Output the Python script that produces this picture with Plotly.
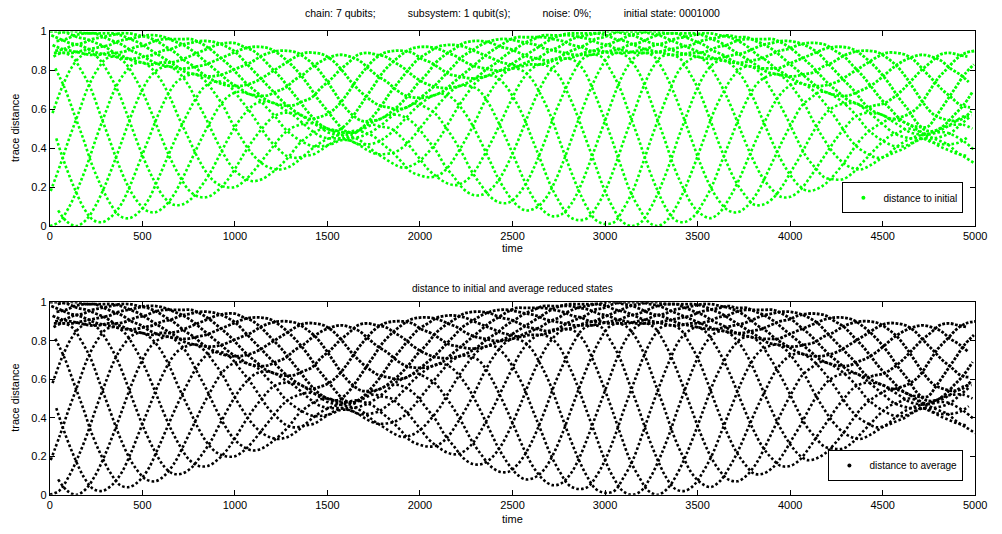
import plotly.graph_objects as go

# ---- data -------------------------------------------------------------------
# Trace distance sampled every 50 time units along each visible arc.
# Arcs of the lower lattice (swing between the lower edge and the dense band).
sample_step = 50
lattice_start = [0, 45, 35, 30, 20, 15, 5]

lattice_0 = [0.00, 0.02, 0.09, 0.19, 0.31, 0.45, 0.58, 0.70, 0.78, 0.83,
             0.84, 0.81, 0.75, 0.66, 0.55, 0.45, 0.35, 0.27, 0.22, 0.20,
             0.20, 0.23, 0.28, 0.34, 0.40, 0.46, 0.50, 0.52, 0.53, 0.52,
             0.50, 0.48, 0.48, 0.49, 0.48, 0.46, 0.42, 0.38, 0.33, 0.28,
             0.26, 0.25, 0.26, 0.30, 0.37, 0.45, 0.54, 0.64, 0.72, 0.78,
             0.81, 0.80, 0.76, 0.68, 0.58, 0.45, 0.32, 0.20, 0.10, 0.03,
             0.01, 0.02, 0.09, 0.18, 0.31, 0.45, 0.58, 0.70, 0.80, 0.85,
             0.87, 0.84, 0.77, 0.68, 0.57, 0.45, 0.34, 0.25, 0.19, 0.15,
             0.15, 0.18, 0.24, 0.31, 0.38, 0.45, 0.51, 0.56, 0.58, 0.58,
             0.57, 0.54, 0.51, 0.48, 0.47, 0.46, 0.44, 0.42, 0.38, 0.35,
             0.32]
lattice_1 = [0.08, 0.02, 0.00, 0.03, 0.10, 0.20, 0.32, 0.45, 0.58, 0.69,
             0.77, 0.81, 0.82, 0.79, 0.73, 0.64, 0.55, 0.45, 0.36, 0.29,
             0.25, 0.23, 0.24, 0.27, 0.31, 0.36, 0.42, 0.46, 0.49, 0.50,
             0.49, 0.48, 0.48, 0.50, 0.52, 0.51, 0.50, 0.46, 0.41, 0.35,
             0.29, 0.25, 0.22, 0.21, 0.23, 0.28, 0.36, 0.45, 0.55, 0.65,
             0.74, 0.80, 0.83, 0.82, 0.78, 0.69, 0.58, 0.45, 0.32, 0.19,
             0.09, 0.02, 0.00, 0.02, 0.09, 0.19, 0.31, 0.45, 0.58, 0.70,
             0.79, 0.84, 0.85, 0.82, 0.76, 0.67, 0.56, 0.45, 0.35, 0.27,
             0.21, 0.18, 0.19, 0.22, 0.27, 0.33, 0.40, 0.46, 0.50, 0.53,
             0.55, 0.54, 0.52, 0.49, 0.47, 0.48, 0.48, 0.46, 0.43, 0.39]
lattice_2 = [0.45, 0.31, 0.19, 0.09, 0.03, 0.02, 0.05, 0.11, 0.21, 0.33,
             0.45, 0.57, 0.67, 0.74, 0.77, 0.78, 0.75, 0.69, 0.62, 0.53,
             0.45, 0.38, 0.33, 0.30, 0.29, 0.30, 0.33, 0.37, 0.41, 0.44,
             0.46, 0.47, 0.47, 0.50, 0.53, 0.55, 0.57, 0.57, 0.55, 0.51,
             0.45, 0.39, 0.31, 0.25, 0.19, 0.16, 0.16, 0.19, 0.25, 0.34,
             0.45, 0.57, 0.68, 0.77, 0.83, 0.86, 0.85, 0.80, 0.70, 0.58,
             0.45, 0.31, 0.18, 0.09, 0.02, 0.00, 0.03, 0.10, 0.20, 0.32,
             0.45, 0.58, 0.68, 0.76, 0.81, 0.82, 0.79, 0.72, 0.64, 0.55,
             0.45, 0.36, 0.30, 0.25, 0.24, 0.24, 0.27, 0.32, 0.37, 0.42,
             0.46, 0.48, 0.50, 0.49, 0.47, 0.49, 0.51, 0.52, 0.52, 0.50]
lattice_3 = [0.81, 0.71, 0.58, 0.45, 0.31, 0.20, 0.11, 0.05, 0.04, 0.07,
             0.13, 0.23, 0.34, 0.45, 0.55, 0.64, 0.71, 0.74, 0.74, 0.71,
             0.65, 0.59, 0.52, 0.45, 0.40, 0.36, 0.35, 0.36, 0.37, 0.40,
             0.43, 0.45, 0.45, 0.46, 0.48, 0.51, 0.55, 0.59, 0.61, 0.63,
             0.61, 0.58, 0.52, 0.45, 0.37, 0.28, 0.21, 0.15, 0.12, 0.12,
             0.16, 0.23, 0.33, 0.45, 0.58, 0.69, 0.79, 0.86, 0.88, 0.87,
             0.80, 0.71, 0.58, 0.45, 0.31, 0.19, 0.09, 0.03, 0.02, 0.05,
             0.12, 0.21, 0.33, 0.45, 0.57, 0.67, 0.74, 0.77, 0.78, 0.75,
             0.69, 0.62, 0.53, 0.45, 0.38, 0.33, 0.30, 0.29, 0.31, 0.34,
             0.37, 0.41, 0.44, 0.46, 0.47, 0.48, 0.50, 0.53, 0.56, 0.57]
lattice_4 = [0.87, 0.89, 0.87, 0.80, 0.71, 0.58, 0.45, 0.32, 0.21, 0.13,
             0.08, 0.07, 0.10, 0.16, 0.25, 0.35, 0.45, 0.54, 0.62, 0.67,
             0.69, 0.68, 0.66, 0.61, 0.56, 0.50, 0.46, 0.43, 0.41, 0.41,
             0.42, 0.44, 0.44, 0.42, 0.42, 0.43, 0.46, 0.50, 0.55, 0.60,
             0.64, 0.67, 0.68, 0.66, 0.61, 0.54, 0.45, 0.35, 0.25, 0.17,
             0.11, 0.08, 0.09, 0.13, 0.21, 0.32, 0.45, 0.58, 0.70, 0.80,
             0.87, 0.89, 0.87, 0.81, 0.71, 0.58, 0.45, 0.31, 0.20, 0.11,
             0.06, 0.04, 0.07, 0.14, 0.23, 0.34, 0.45, 0.55, 0.64, 0.70,
             0.73, 0.73, 0.70, 0.65, 0.59, 0.52, 0.45, 0.40, 0.37, 0.35,
             0.36, 0.38, 0.40, 0.43, 0.45, 0.45, 0.46, 0.48, 0.52, 0.56]
lattice_5 = [0.58, 0.71, 0.81, 0.87, 0.89, 0.86, 0.79, 0.70, 0.58, 0.45,
             0.33, 0.23, 0.15, 0.11, 0.11, 0.14, 0.20, 0.27, 0.36, 0.45,
             0.53, 0.59, 0.63, 0.64, 0.63, 0.60, 0.57, 0.53, 0.49, 0.46,
             0.45, 0.45, 0.44, 0.42, 0.39, 0.37, 0.37, 0.38, 0.41, 0.46,
             0.52, 0.58, 0.64, 0.69, 0.72, 0.72, 0.70, 0.64, 0.55, 0.45,
             0.34, 0.23, 0.14, 0.08, 0.05, 0.06, 0.11, 0.20, 0.32, 0.45,
             0.58, 0.71, 0.81, 0.87, 0.89, 0.87, 0.80, 0.70, 0.58, 0.45,
             0.32, 0.21, 0.13, 0.08, 0.07, 0.10, 0.16, 0.25, 0.35, 0.45,
             0.54, 0.62, 0.66, 0.69, 0.68, 0.65, 0.61, 0.56, 0.50, 0.46,
             0.43, 0.41, 0.41, 0.43, 0.45, 0.43, 0.42, 0.42, 0.43, 0.46]
lattice_6 = [0.18, 0.31, 0.45, 0.58, 0.71, 0.80, 0.86, 0.87, 0.84, 0.77,
             0.68, 0.57, 0.45, 0.34, 0.25, 0.18, 0.15, 0.15, 0.18, 0.23,
             0.30, 0.38, 0.45, 0.51, 0.56, 0.58, 0.58, 0.57, 0.54, 0.51,
             0.48, 0.47, 0.46, 0.45, 0.42, 0.38, 0.35, 0.32, 0.30, 0.31,
             0.34, 0.39, 0.45, 0.53, 0.61, 0.68, 0.74, 0.77, 0.77, 0.73,
             0.66, 0.57, 0.45, 0.33, 0.21, 0.12, 0.05, 0.03, 0.04, 0.10,
             0.19, 0.31, 0.45, 0.58, 0.71, 0.81, 0.87, 0.88, 0.86, 0.79,
             0.70, 0.58, 0.45, 0.33, 0.23, 0.16, 0.11, 0.11, 0.14, 0.20,
             0.28, 0.36, 0.45, 0.53, 0.59, 0.62, 0.63, 0.63, 0.60, 0.56,
             0.52, 0.48, 0.46, 0.45, 0.45, 0.44, 0.41, 0.39, 0.37, 0.36]

# Arcs of the dense upper band (swing between the band's lower edge and the top).
band_start = [22, 15, 8, 0, 43, 36, 29]

band_0 = [0.89, 0.89, 0.89, 0.90, 0.91, 0.92, 0.93, 0.95, 0.96, 0.97,
          0.98, 0.98, 0.97, 0.95, 0.93, 0.90, 0.86, 0.82, 0.78, 0.74,
          0.71, 0.68, 0.67, 0.67, 0.69, 0.71, 0.75, 0.78, 0.82, 0.85,
          0.87, 0.88, 0.87, 0.85, 0.81, 0.77, 0.74, 0.70, 0.67, 0.66,
          0.66, 0.67, 0.69, 0.73, 0.77, 0.81, 0.85, 0.89, 0.92, 0.95,
          0.97, 0.97, 0.97, 0.97, 0.96, 0.95, 0.93, 0.92, 0.90, 0.90,
          0.89, 0.89, 0.89, 0.90, 0.91, 0.93, 0.94, 0.96, 0.97, 0.98,
          0.99, 0.99, 0.98, 0.97, 0.95, 0.92, 0.88, 0.85, 0.81, 0.78,
          0.75, 0.73, 0.72, 0.72, 0.73, 0.75, 0.78, 0.81, 0.84, 0.87,
          0.89, 0.89, 0.88, 0.85, 0.80, 0.75, 0.70, 0.66, 0.62, 0.61]
band_1 = [0.93, 0.91, 0.90, 0.89, 0.88, 0.88, 0.89, 0.89, 0.90, 0.92,
          0.93, 0.95, 0.96, 0.96, 0.96, 0.96, 0.94, 0.91, 0.87, 0.83,
          0.78, 0.73, 0.69, 0.65, 0.63, 0.62, 0.62, 0.64, 0.66, 0.71,
          0.75, 0.80, 0.84, 0.88, 0.89, 0.88, 0.87, 0.84, 0.81, 0.77,
          0.74, 0.72, 0.71, 0.71, 0.72, 0.74, 0.77, 0.81, 0.84, 0.88,
          0.91, 0.94, 0.96, 0.98, 0.98, 0.98, 0.98, 0.97, 0.96, 0.94,
          0.93, 0.91, 0.90, 0.89, 0.89, 0.89, 0.90, 0.91, 0.92, 0.93,
          0.95, 0.96, 0.97, 0.98, 0.97, 0.97, 0.95, 0.93, 0.90, 0.86,
          0.82, 0.78, 0.74, 0.70, 0.68, 0.67, 0.67, 0.69, 0.71, 0.74,
          0.78, 0.82, 0.85, 0.87, 0.88, 0.87, 0.85, 0.81, 0.78, 0.74]
band_2 = [0.98, 0.96, 0.94, 0.93, 0.91, 0.89, 0.88, 0.87, 0.86, 0.86,
          0.87, 0.88, 0.90, 0.91, 0.93, 0.94, 0.95, 0.95, 0.94, 0.92,
          0.89, 0.84, 0.79, 0.74, 0.69, 0.64, 0.60, 0.57, 0.55, 0.56,
          0.58, 0.62, 0.68, 0.75, 0.81, 0.86, 0.89, 0.90, 0.90, 0.89,
          0.86, 0.84, 0.81, 0.78, 0.77, 0.76, 0.76, 0.77, 0.79, 0.81,
          0.84, 0.87, 0.90, 0.93, 0.96, 0.98, 0.99, 0.99, 0.99, 0.99,
          0.98, 0.96, 0.95, 0.93, 0.91, 0.90, 0.89, 0.88, 0.88, 0.89,
          0.89, 0.90, 0.92, 0.93, 0.95, 0.96, 0.96, 0.96, 0.96, 0.94,
          0.91, 0.87, 0.83, 0.78, 0.73, 0.69, 0.65, 0.63, 0.61, 0.62,
          0.63, 0.66, 0.70, 0.75, 0.80, 0.84, 0.88, 0.89, 0.88, 0.87]
band_3 = [1.00, 1.00, 0.99, 0.97, 0.96, 0.94, 0.92, 0.89, 0.87, 0.85,
          0.84, 0.83, 0.84, 0.84, 0.85, 0.87, 0.89, 0.91, 0.93, 0.94,
          0.94, 0.92, 0.90, 0.86, 0.81, 0.76, 0.70, 0.64, 0.58, 0.53,
          0.50, 0.49, 0.52, 0.58, 0.65, 0.72, 0.79, 0.84, 0.88, 0.91,
          0.92, 0.92, 0.91, 0.89, 0.87, 0.84, 0.82, 0.81, 0.80, 0.80,
          0.81, 0.83, 0.85, 0.87, 0.90, 0.92, 0.95, 0.97, 0.98, 0.99,
          1.00, 1.00, 0.99, 0.98, 0.96, 0.94, 0.93, 0.91, 0.89, 0.88,
          0.87, 0.86, 0.86, 0.87, 0.88, 0.89, 0.91, 0.93, 0.94, 0.95,
          0.95, 0.94, 0.92, 0.89, 0.84, 0.79, 0.74, 0.69, 0.63, 0.59,
          0.57, 0.55, 0.56, 0.58, 0.62, 0.69, 0.76, 0.81, 0.86, 0.89,
          0.90]
band_4 = [0.99, 1.00, 1.00, 0.99, 0.99, 0.97, 0.95, 0.93, 0.90, 0.88,
          0.85, 0.83, 0.82, 0.81, 0.81, 0.82, 0.83, 0.85, 0.87, 0.89,
          0.91, 0.92, 0.92, 0.91, 0.88, 0.84, 0.79, 0.73, 0.66, 0.60,
          0.54, 0.49, 0.48, 0.51, 0.56, 0.62, 0.69, 0.75, 0.81, 0.86,
          0.89, 0.92, 0.93, 0.93, 0.92, 0.90, 0.88, 0.86, 0.84, 0.83,
          0.82, 0.83, 0.83, 0.84, 0.86, 0.89, 0.91, 0.93, 0.96, 0.97,
          0.99, 1.00, 1.00, 1.00, 0.99, 0.98, 0.96, 0.94, 0.92, 0.90,
          0.88, 0.86, 0.85, 0.84, 0.84, 0.85, 0.86, 0.88, 0.90, 0.91,
          0.93, 0.94, 0.94, 0.93, 0.90, 0.87, 0.82, 0.77, 0.71, 0.65,
          0.60, 0.55, 0.52, 0.51, 0.51, 0.57, 0.64, 0.71, 0.78, 0.83]
band_5 = [0.95, 0.96, 0.98, 0.99, 0.99, 0.99, 0.99, 0.98, 0.96, 0.94,
          0.91, 0.88, 0.85, 0.82, 0.79, 0.78, 0.77, 0.77, 0.78, 0.80,
          0.82, 0.84, 0.87, 0.89, 0.90, 0.90, 0.89, 0.86, 0.82, 0.76,
          0.69, 0.62, 0.57, 0.54, 0.54, 0.55, 0.58, 0.62, 0.67, 0.73,
          0.78, 0.84, 0.88, 0.91, 0.94, 0.95, 0.95, 0.94, 0.92, 0.91,
          0.89, 0.87, 0.86, 0.85, 0.86, 0.86, 0.87, 0.89, 0.90, 0.92,
          0.94, 0.96, 0.98, 0.99, 1.00, 1.00, 0.99, 0.99, 0.97, 0.95,
          0.93, 0.90, 0.88, 0.85, 0.83, 0.82, 0.81, 0.81, 0.81, 0.83,
          0.85, 0.87, 0.89, 0.91, 0.92, 0.92, 0.91, 0.88, 0.84, 0.79,
          0.73, 0.66, 0.60, 0.53, 0.49, 0.49, 0.52, 0.57, 0.62, 0.69]
band_6 = [0.90, 0.91, 0.93, 0.94, 0.96, 0.97, 0.98, 0.99, 0.99, 0.98,
          0.97, 0.95, 0.92, 0.89, 0.85, 0.82, 0.78, 0.75, 0.73, 0.72,
          0.72, 0.73, 0.75, 0.78, 0.81, 0.84, 0.87, 0.89, 0.89, 0.88,
          0.85, 0.80, 0.74, 0.69, 0.65, 0.62, 0.61, 0.60, 0.61, 0.64,
          0.68, 0.72, 0.77, 0.82, 0.87, 0.90, 0.93, 0.95, 0.96, 0.96,
          0.95, 0.94, 0.93, 0.91, 0.90, 0.89, 0.88, 0.88, 0.88, 0.89,
          0.90, 0.91, 0.93, 0.94, 0.96, 0.98, 0.99, 0.99, 0.99, 0.99,
          0.98, 0.96, 0.94, 0.91, 0.88, 0.85, 0.82, 0.79, 0.78, 0.77,
          0.77, 0.78, 0.79, 0.82, 0.84, 0.87, 0.89, 0.90, 0.90, 0.89,
          0.86, 0.82, 0.76, 0.69, 0.62, 0.57, 0.55, 0.54, 0.55, 0.59]

lattice_arcs = [lattice_0, lattice_1, lattice_2, lattice_3, lattice_4, lattice_5, lattice_6]
band_arcs = [band_0, band_1, band_2, band_3, band_4, band_5, band_6]

x_ticks = [0, 500, 1000, 1500, 2000, 2500, 3000, 3500, 4000, 4500, 5000]
y_ticks = [0, 0.2, 0.4, 0.6, 0.8, 1]
y_tick_text = ["0", "0.2", "0.4", "0.6", "0.8", "1"]

GAP = "\u00a0" * 11
title_top = ("chain: 7 qubits;" + GAP + "subsystem: 1 qubit(s);" + GAP +
             "noise: 0%;" + GAP + "initial state: 0001000")
title_bottom = "distance to initial and average reduced states"

# ---- figure -----------------------------------------------------------------
FONT = "Liberation Sans"
W, H = 1002, 534
GREEN = "#00ff00"
BLACK = "#000000"

fig = go.Figure()


def add_arcs(color, xa, ya):
    # lattice arcs: dotted strands
    for start, vals in zip(lattice_start, lattice_arcs):
        times = [start + sample_step * i for i in range(len(vals))]
        fig.add_trace(go.Scatter(
            x=times, y=vals, mode="lines", showlegend=False, hoverinfo="skip",
            line=dict(color=color, width=2.6, dash="2.6px,2.2px",
                      shape="spline", smoothing=1.0),
            xaxis=xa, yaxis=ya))
    # dense band arcs: tighter dotted strands
    for start, vals in zip(band_start, band_arcs):
        times = [start + sample_step * i for i in range(len(vals))]
        fig.add_trace(go.Scatter(
            x=times, y=vals, mode="lines", showlegend=False, hoverinfo="skip",
            line=dict(color=color, width=2.8, dash="2.8px,1.5px",
                      shape="spline", smoothing=1.0),
            xaxis=xa, yaxis=ya))


add_arcs(GREEN, "x", "y")
add_arcs(BLACK, "x2", "y2")

# legend entries (dot markers)
fig.add_trace(go.Scatter(
    x=[None], y=[None], mode="markers", name="distance to initial", showlegend=True,
    marker=dict(color=GREEN, size=4, symbol="circle"), xaxis="x", yaxis="y",
    legend="legend"))
fig.add_trace(go.Scatter(
    x=[None], y=[None], mode="markers", name="distance to average", showlegend=True,
    marker=dict(color=BLACK, size=4, symbol="circle"), xaxis="x2", yaxis="y2",
    legend="legend2"))

x0, x1 = 47.5 / W, 987 / W
top_dom = [(H - 225) / H, (H - 26) / H]
bot_dom = [(H - 500) / H, (H - 303) / H]

axis_common = dict(
    showline=True, linecolor="black", linewidth=1, mirror="ticks",
    ticks="inside", ticklen=5, tickcolor="black", showgrid=False, zeroline=False,
    tickfont=dict(family=FONT, size=11, color="black"))

legend_common = dict(xanchor="right", yanchor="bottom", bgcolor="white",
                     bordercolor="black", borderwidth=1, itemwidth=30,
                     font=dict(family=FONT, size=10, color="black"))


def label(text, x_px, y_px, size=11, angle=0):
    return dict(text=text, x=x_px / W, y=(H - y_px) / H, xref="paper", yref="paper",
                xanchor="center", yanchor="middle", showarrow=False, textangle=angle,
                font=dict(family=FONT, size=size, color="black"))


xc_px = (47.5 + 987) / 2

fig.update_layout(
    width=W, height=H, margin=dict(l=0, r=0, t=0, b=0), showlegend=True,
    paper_bgcolor="white", plot_bgcolor="white",
    xaxis=dict(domain=[x0, x1], anchor="y", range=[0, 5000], tickvals=x_ticks, **axis_common),
    yaxis=dict(domain=top_dom, anchor="x", range=[0, 1], tickvals=y_ticks,
               ticktext=y_tick_text, **axis_common),
    xaxis2=dict(domain=[x0, x1], anchor="y2", range=[0, 5000], tickvals=x_ticks, **axis_common),
    yaxis2=dict(domain=bot_dom, anchor="x2", range=[0, 1], tickvals=y_ticks,
                ticktext=y_tick_text, **axis_common),
    legend=dict(x=975 / W, y=(H - 212) / H, **legend_common),
    legend2=dict(x=975 / W, y=(H - 486) / H, **legend_common),
    annotations=[
        label(title_top, xc_px, 7, size=10.5),
        label(title_bottom, xc_px, 289, size=10),
        label("time", xc_px, 248),
        label("time", xc_px, 525),
        label("trace distance", 12, 125, angle=-90),
        label("trace distance", 12, 401, angle=-90),
    ],
)

fig.write_html("out.html")
